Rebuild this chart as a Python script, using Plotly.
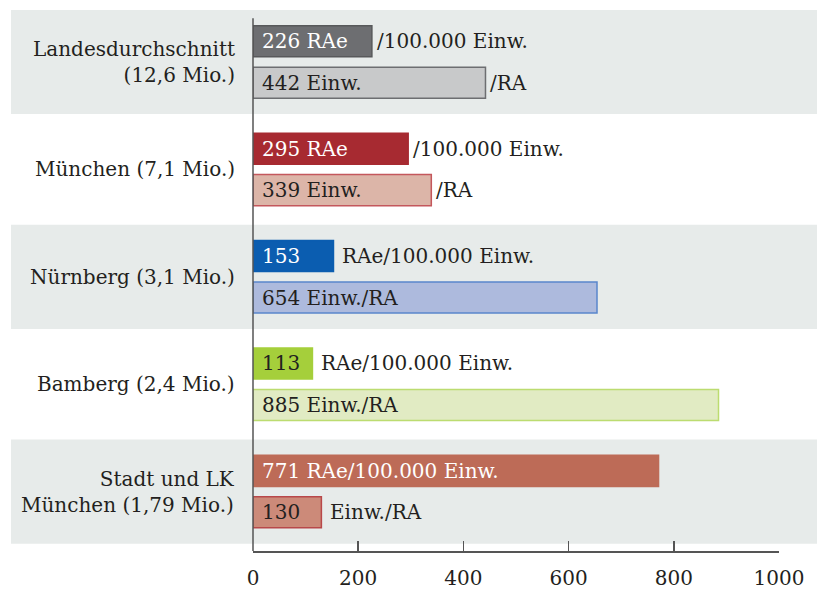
import plotly.graph_objects as go

# ---- data ----
categories = ["Landesdurchschnitt<br>(12,6 Mio.)", "München (7,1 Mio.)", "Nürnberg (3,1 Mio.)",
              "Bamberg (2,4 Mio.)", "Stadt und LK<br>München (1,79 Mio.)"]
rae_values = [226, 295, 153, 113, 771]          # Rechtsanwälte je 100.000 Einwohner
einw_values = [442, 339, 654, 885, 130]         # Einwohner je Rechtsanwalt
rae_inside = ["226 RAe", "295 RAe", "153", "113", "771 RAe/100.000 Einw."]
rae_outside = ["/100.000 Einw.", "/100.000 Einw.", "RAe/100.000 Einw.", "RAe/100.000 Einw.", ""]
einw_inside = ["442 Einw.", "339 Einw.", "654 Einw./RA", "885 Einw./RA", "130"]
einw_outside = ["/RA", "/RA", "", "", "Einw./RA"]
x_ticks = [0, 200, 400, 600, 800, 1000]

# ---- styles ----
rae_fill = ["#6d6e71", "#a72a31", "#0b5db0", "#a5cf3b", "#bd6b57"]
rae_line = ["#58595b", "#a72a31", "#0b5db0", "#a5cf3b", "#bd6b57"]
rae_text = ["white", "white", "white", "#231f20", "white"]
einw_fill = ["#c8c9ca", "#dcb5a8", "#adbadd", "#e1ebc3", "#cc8a79"]
einw_line = ["#6d6e71", "#c4575c", "#5a86cc", "#bcdc70", "#b8484a"]
FONT = "DejaVu Serif"
TXT = "#231f20"
BAND = "#e7ebea"

off = 0.193
bw = 0.289
n = len(categories)
pos = list(range(n))

fig = go.Figure()
fig.add_trace(go.Bar(
    x=rae_values, y=[p - off for p in pos], orientation="h", width=bw,
    marker=dict(color=rae_fill, line=dict(color=rae_line, width=1.5)),
    hoverinfo="skip", showlegend=False))
fig.add_trace(go.Bar(
    x=einw_values, y=[p + off for p in pos], orientation="h", width=bw,
    marker=dict(color=einw_fill, line=dict(color=einw_line, width=1.5)),
    hoverinfo="skip", showlegend=False))

shapes = []
for i in pos:
    if i % 2 == 0:
        shapes.append(dict(type="rect", xref="paper", yref="y", x0=-0.46, x1=1.075,
                           y0=i - 0.485, y1=i + 0.485, fillcolor=BAND, line=dict(width=0),
                           layer="below"))
shapes.append(dict(type="line", xref="paper", yref="paper", x0=0, x1=0, y0=0, y1=0.983,
                   line=dict(color="#555555", width=1.5)))

ann = []
for i in pos:
    ann.append(dict(x=0, xref="paper", y=i, yref="y", text=categories[i], showarrow=False,
                    xanchor="right", align="right", xshift=-16,
                    font=dict(family=FONT, size=20, color=TXT)))
    # RAe bar
    ann.append(dict(x=0, y=i - off, text=rae_inside[i], showarrow=False, xanchor="left",
                    xshift=7, font=dict(family=FONT, size=20, color=rae_text[i])))
    if rae_outside[i]:
        ann.append(dict(x=rae_values[i], y=i - off, text=rae_outside[i], showarrow=False,
                        xanchor="left", xshift=3 if rae_outside[i].startswith("/") else 7,
                        font=dict(family=FONT, size=20, color=TXT)))
    # Einw bar
    ann.append(dict(x=0, y=i + off, text=einw_inside[i], showarrow=False, xanchor="left",
                    xshift=7, font=dict(family=FONT, size=20, color=TXT)))
    if einw_outside[i]:
        ann.append(dict(x=einw_values[i], y=i + off, text=einw_outside[i], showarrow=False,
                        xanchor="left", xshift=3 if einw_outside[i].startswith("/") else 7,
                        font=dict(family=FONT, size=20, color=TXT)))

fig.update_layout(
    width=817, height=590, autosize=False,
    margin=dict(l=253, r=38, t=9, b=39),
    paper_bgcolor="white", plot_bgcolor="rgba(0,0,0,0)",
    shapes=shapes, annotations=ann, bargap=0,
    xaxis=dict(range=[0, 1000], tickvals=x_ticks, ticks="inside", ticklen=10, tickwidth=1.5,
               tickcolor="#555555", showline=True, linecolor="#555555", linewidth=1.5,
               showgrid=False, zeroline=False, ticklabelstandoff=8, automargin=False,
               tickfont=dict(family=FONT, size=20, color=TXT), fixedrange=True),
    yaxis=dict(range=[4.553, -0.4935], showticklabels=False, showgrid=False, zeroline=False,
               showline=False, ticks="", fixedrange=True, automargin=False),
)

fig.write_html("out.html",
               config={"displayModeBar": False, "responsive": False, "staticPlot": True},
               post_script="document.documentElement.style.overflow='hidden';"
                           "document.body.style.margin='0';document.body.style.overflow='hidden';")
